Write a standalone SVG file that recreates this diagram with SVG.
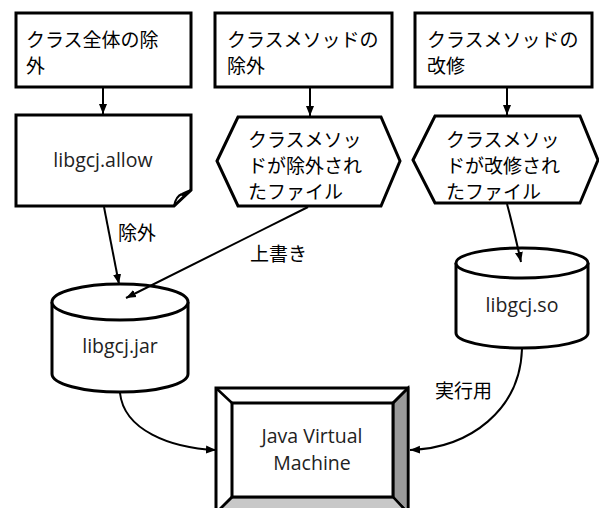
<svg xmlns="http://www.w3.org/2000/svg" width="599" height="508" viewBox="0 0 599 508">
<style>
.box{fill:#fff;stroke:#000;stroke-width:3;stroke-linejoin:miter}
.jp{font-family:"Noto Sans CJK JP","Noto Sans",sans-serif;font-size:19px;fill:#000}
.en{font-family:"Open Sans","Noto Sans",sans-serif;font-size:19.5px;fill:#222}
.ln{fill:none;stroke:#000;stroke-width:2}
</style>
<defs>
<marker id="ah2" viewBox="0 0 10 10" refX="10" refY="5" markerWidth="10" markerHeight="10" orient="auto" markerUnits="userSpaceOnUse">
<path d="M0,1 L10,5 L0,9 Z" fill="#000"/>
</marker>
</defs>
<g id="n1">
<rect class="box" x="16" y="13" width="175" height="74"/>
<text class="jp" x="26" y="47">クラス全体の除</text>
<text class="jp" x="26" y="73">外</text>
</g>
<g id="n2">
<rect class="box" x="215" y="13" width="177" height="74"/>
<text class="jp" x="227" y="47">クラスメソッドの</text>
<text class="jp" x="227" y="73">除外</text>
</g>
<g id="n3">
<rect class="box" x="415" y="13" width="177" height="74"/>
<text class="jp" x="427" y="47">クラスメソッドの</text>
<text class="jp" x="427" y="73">改修</text>
</g>
<g id="n4">
<path class="box" d="M16,115 H191 V190 L174,206 H16 Z"/>
<path fill="none" stroke="#000" stroke-width="2" d="M174,206 Q176,196 182,194 Q186,192 191,190 Q184,197 180,194"/>
<text class="en" x="103" y="167" text-anchor="middle">libgcj.allow</text>
</g>
<g id="n5">
<polygon class="box" points="217,161 238,117 381,117 400,161 381,206 238,206"/>
<text class="jp" x="248" y="147">クラスメソッ</text>
<text class="jp" x="248" y="173">ドが除外され</text>
<text class="jp" x="248" y="199">たファイル</text>
</g>
<g id="n6">
<polygon class="box" points="413,160 435,116 580,116 598,160 580,203 435,203"/>
<text class="jp" x="446" y="147">クラスメソッ</text>
<text class="jp" x="446" y="173">ドが改修され</text>
<text class="jp" x="446" y="199">たファイル</text>
</g>
<g id="n7">
<path class="box" d="M52,302 V374 A68,18 0 0 0 188,374 V302"/>
<ellipse class="box" cx="120" cy="302" rx="68" ry="18"/>
<text class="en" x="120" y="353" text-anchor="middle">libgcj.jar</text>
</g>
<g id="n8">
<path class="box" d="M456,263 V333 A66,15 0 0 0 588,333 V263"/>
<ellipse class="box" cx="522" cy="263" rx="66" ry="15"/>
<text class="en" x="522" y="312" text-anchor="middle">libgcj.so</text>
</g>
<g id="n9">
<rect class="box" x="216" y="388" width="192" height="125"/>
<path d="M393,403 L408,388 V513 L393,497 Z" fill="#999" stroke="#000" stroke-width="2.5"/>
<path d="M232,497 H393 L408,513 H216 Z" fill="#c8c8c8" stroke="#000" stroke-width="2.5"/>
<path d="M216,388 L232,403 M408,388 L393,403 M216,513 L232,497" stroke="#000" stroke-width="2.5"/>
<rect class="box" x="232" y="403" width="161" height="94"/>
<text class="en" x="312" y="443" text-anchor="middle">Java Virtual</text>
<text class="en" x="312" y="470" text-anchor="middle">Machine</text>
</g>
<g id="connectors">
<line class="ln" x1="103" y1="88" x2="103" y2="114" marker-end="url(#ah2)"/>
<line class="ln" x1="310" y1="88" x2="310" y2="116" marker-end="url(#ah2)"/>
<line class="ln" x1="507" y1="88" x2="507" y2="115" marker-end="url(#ah2)"/>
<line class="ln" x1="104" y1="207" x2="119" y2="284" marker-end="url(#ah2)"/>
<line class="ln" x1="308" y1="207" x2="126" y2="298" marker-end="url(#ah2)"/>
<path class="ln" d="M507,204 Q514,230 521,262" marker-end="url(#ah2)"/>
<path class="ln" d="M120,393 C124,430 170,448 216,450" marker-end="url(#ah2)"/>
<path class="ln" d="M522,349 C520,410 470,448 410,450" marker-end="url(#ah2)"/>
<text class="jp" x="118" y="240">除外</text>
<text class="jp" x="250" y="261">上書き</text>
<text class="jp" x="435" y="398">実行用</text>
</g>
</svg>
